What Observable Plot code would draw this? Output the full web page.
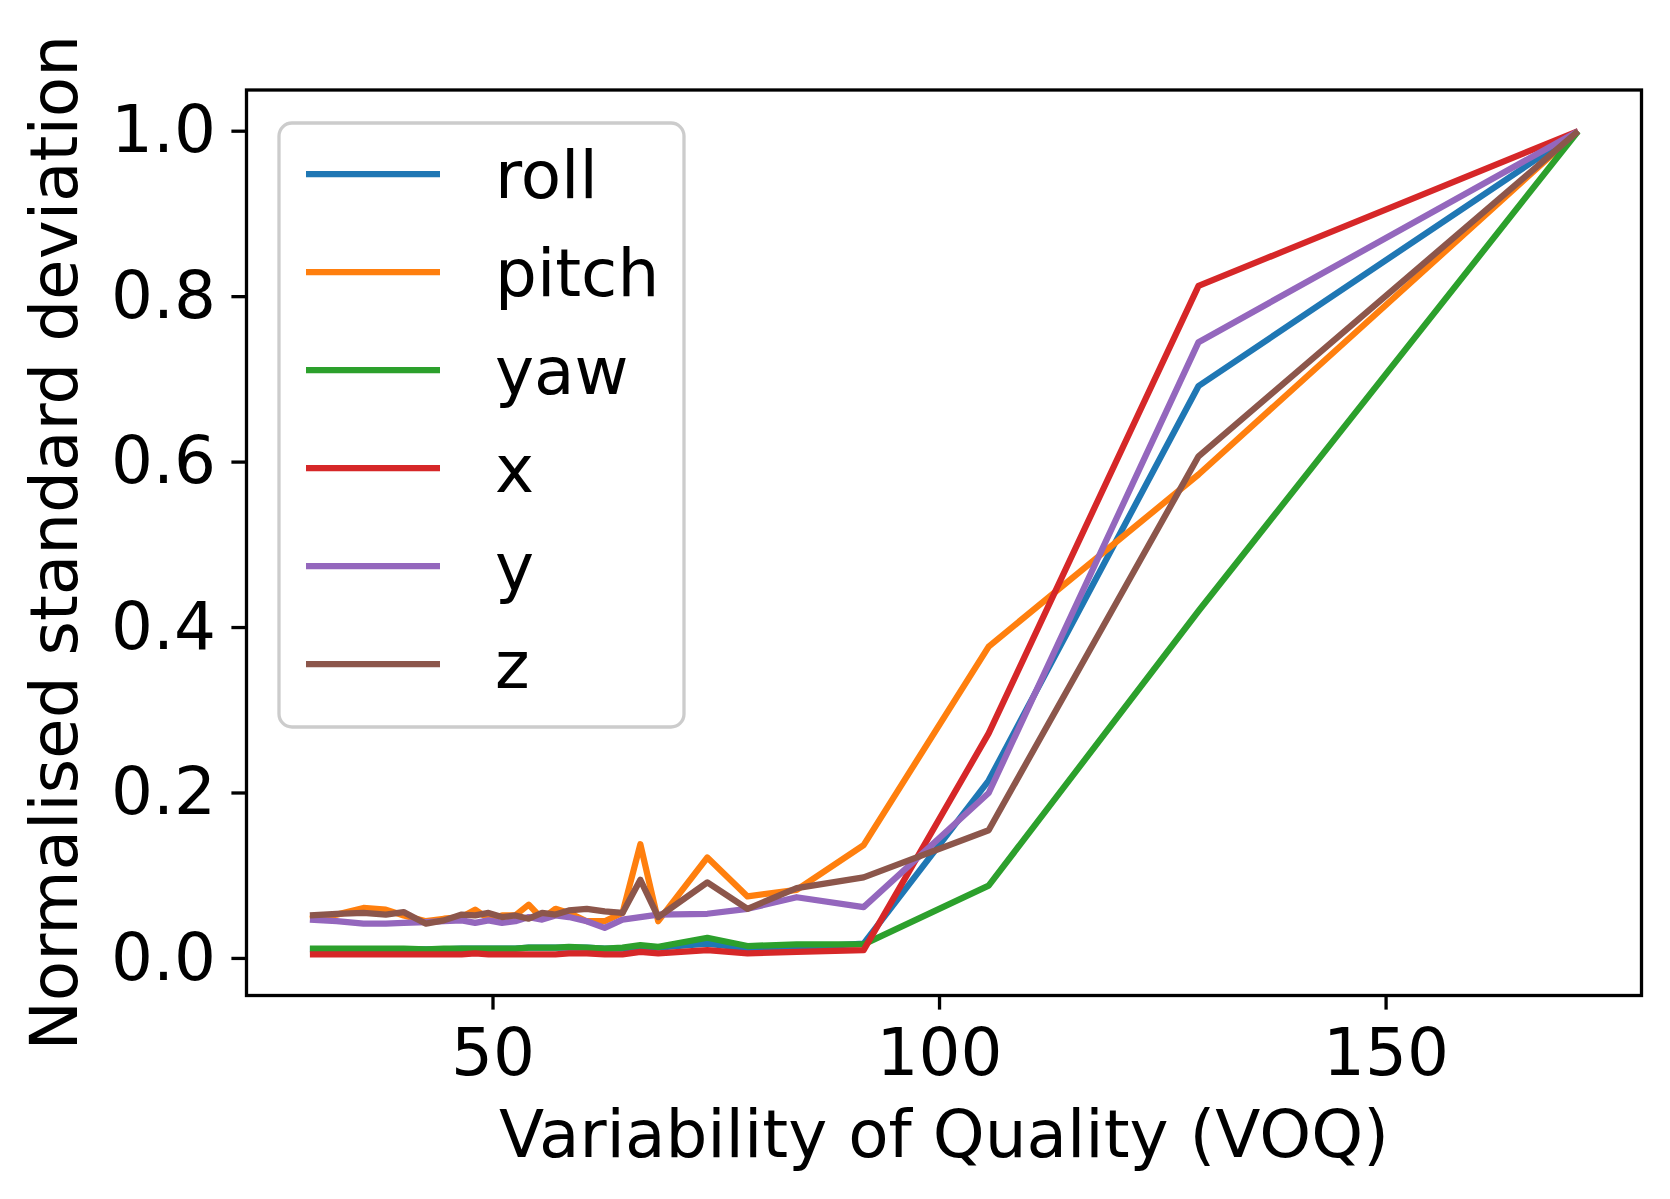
<!DOCTYPE html>
<html>
<head>
<meta charset="utf-8">
<script src="https://cdn.jsdelivr.net/npm/d3@7"></script>
<script src="https://cdn.jsdelivr.net/npm/@observablehq/plot@0.6"></script>
<style>
  html, body { margin: 0; padding: 0; background: #fff; }
  #chart { width: 1670px; height: 1199px; }
</style>
</head>
<body>
<div id="chart"></div>
<script>
// ---- data ----
const voq   = [29.5, 32.5, 35.5, 38, 40, 42.5, 44.5, 46.5, 48, 49.5, 51, 52.5, 54, 55.5, 57, 58.5, 60.5, 62.5, 64.5, 66.5, 68.5, 74, 78.5, 84, 91.5, 105.5, 129, 171.5];
const roll  = [0.011,0.011,0.011,0.011,0.011,0.011,0.011,0.012,0.012,0.012,0.012,0.012,0.013,0.013,0.013,0.013,0.013,0.012,0.012,0.014,0.013,0.018,0.012,0.013,0.018,0.215,0.692,1.0];
const pitch = [0.048,0.053,0.061,0.059,0.052,0.045,0.048,0.050,0.059,0.048,0.052,0.052,0.065,0.048,0.060,0.055,0.045,0.045,0.055,0.138,0.045,0.122,0.075,0.083,0.137,0.377,0.585,1.0];
const yaw   = [0.012,0.012,0.012,0.012,0.012,0.011,0.012,0.012,0.012,0.012,0.012,0.012,0.013,0.013,0.013,0.014,0.013,0.012,0.013,0.016,0.014,0.025,0.015,0.017,0.017,0.088,0.420,1.0];
const xs    = [0.005,0.005,0.005,0.005,0.005,0.005,0.005,0.005,0.006,0.005,0.005,0.005,0.005,0.005,0.005,0.006,0.006,0.005,0.005,0.008,0.006,0.010,0.006,0.008,0.010,0.272,0.813,1.0];
const ys    = [0.047,0.045,0.042,0.042,0.043,0.044,0.045,0.046,0.043,0.046,0.043,0.045,0.050,0.047,0.052,0.050,0.045,0.037,0.047,0.050,0.053,0.054,0.060,0.074,0.062,0.200,0.745,1.0];
const zs    = [0.052,0.054,0.055,0.053,0.056,0.042,0.046,0.053,0.052,0.055,0.050,0.052,0.048,0.055,0.053,0.058,0.060,0.057,0.055,0.095,0.050,0.092,0.060,0.085,0.098,0.155,0.607,1.0];
const seriesNames  = ["roll", "pitch", "yaw", "x", "y", "z"];
const seriesValues = [roll, pitch, yaw, xs, ys, zs];
const seriesColors = ["#1f77b4", "#ff7f0e", "#2ca02c", "#d62728", "#9467bd", "#8c564b"];
const xTicks = [50, 100, 150];
const yTicks = [0.0, 0.2, 0.4, 0.6, 0.8, 1.0];

// ---- table ----
const rows = [];
seriesNames.forEach((name, i) => {
  voq.forEach((v, j) => rows.push({series: name, voq: v, value: seriesValues[i][j], order: i}));
});

const FS = 66;
const LW = 6.25;
const SW = 3.3;

const W = 1670, H = 1199;
const mL = 246, mR = 29, mT = 89.5, mB = 204;

const plot = Plot.plot({
  width: W,
  height: H,
  marginLeft: mL,
  marginRight: mR,
  marginTop: mT,
  marginBottom: mB,
  style: {fontFamily: "DejaVu Sans, sans-serif", fontSize: FS + "px", color: "black", background: "white", overflow: "visible"},
  x: {domain: [22.4, 178.6], ticks: xTicks},
  y: {domain: [-0.0448, 1.0498], ticks: yTicks},
  color: {domain: seriesNames, range: seriesColors},
  marks: [
    ...seriesNames.map((name) => Plot.line(rows.filter(r => r.series === name), {
      x: "voq", y: "value", stroke: "series", strokeWidth: LW, strokeLinejoin: "round", strokeLinecap: "butt"
    })),
    Plot.frame({stroke: "black", strokeWidth: SW}),
    Plot.axisX({ticks: xTicks, tickSize: 14.6, strokeWidth: SW, tickPadding: 18, fontSize: FS, label: null, tickFormat: d => String(d)}),
    Plot.axisY({ticks: yTicks, tickSize: 14.6, strokeWidth: SW, tickPadding: 16, fontSize: FS, label: null, tickFormat: d => d.toFixed(1)}),
    Plot.text(["Variability of Quality (VOQ)"], {frameAnchor: "bottom", dy: 140, fontSize: FS, text: d => d, lineAnchor: "middle", textAnchor: "middle"}),
    Plot.text(["Normalised standard deviation"], {frameAnchor: "left", dx: -191, rotate: -90, fontSize: FS, text: d => d, lineAnchor: "middle", textAnchor: "middle"})
  ]
});

document.getElementById("chart").appendChild(plot);

// ---- legend (drawn into the same svg) ----
const svg = d3.select(plot);
const lg = svg.append("g").attr("class", "legend").attr("text-anchor", "start");
lg.append("rect")
  .attr("x", 279).attr("y", 123).attr("width", 405).attr("height", 604)
  .attr("rx", 13).attr("ry", 13)
  .attr("fill", "white").attr("fill-opacity", 0.8)
  .attr("stroke", "#cccccc").attr("stroke-width", SW);
seriesNames.forEach((name, i) => {
  const cy = 174 + i * 98;
  lg.append("line")
    .attr("x1", 306).attr("x2", 440).attr("y1", cy).attr("y2", cy)
    .attr("stroke", seriesColors[i]).attr("stroke-width", LW);
  lg.append("text")
    .attr("x", 495).attr("y", cy).attr("dy", "0.36em")
    .attr("text-anchor", "start")
    .attr("font-family", "DejaVu Sans, sans-serif")
    .attr("font-size", FS)
    .attr("fill", "black")
    .text(name);
});
</script>
</body>
</html>
